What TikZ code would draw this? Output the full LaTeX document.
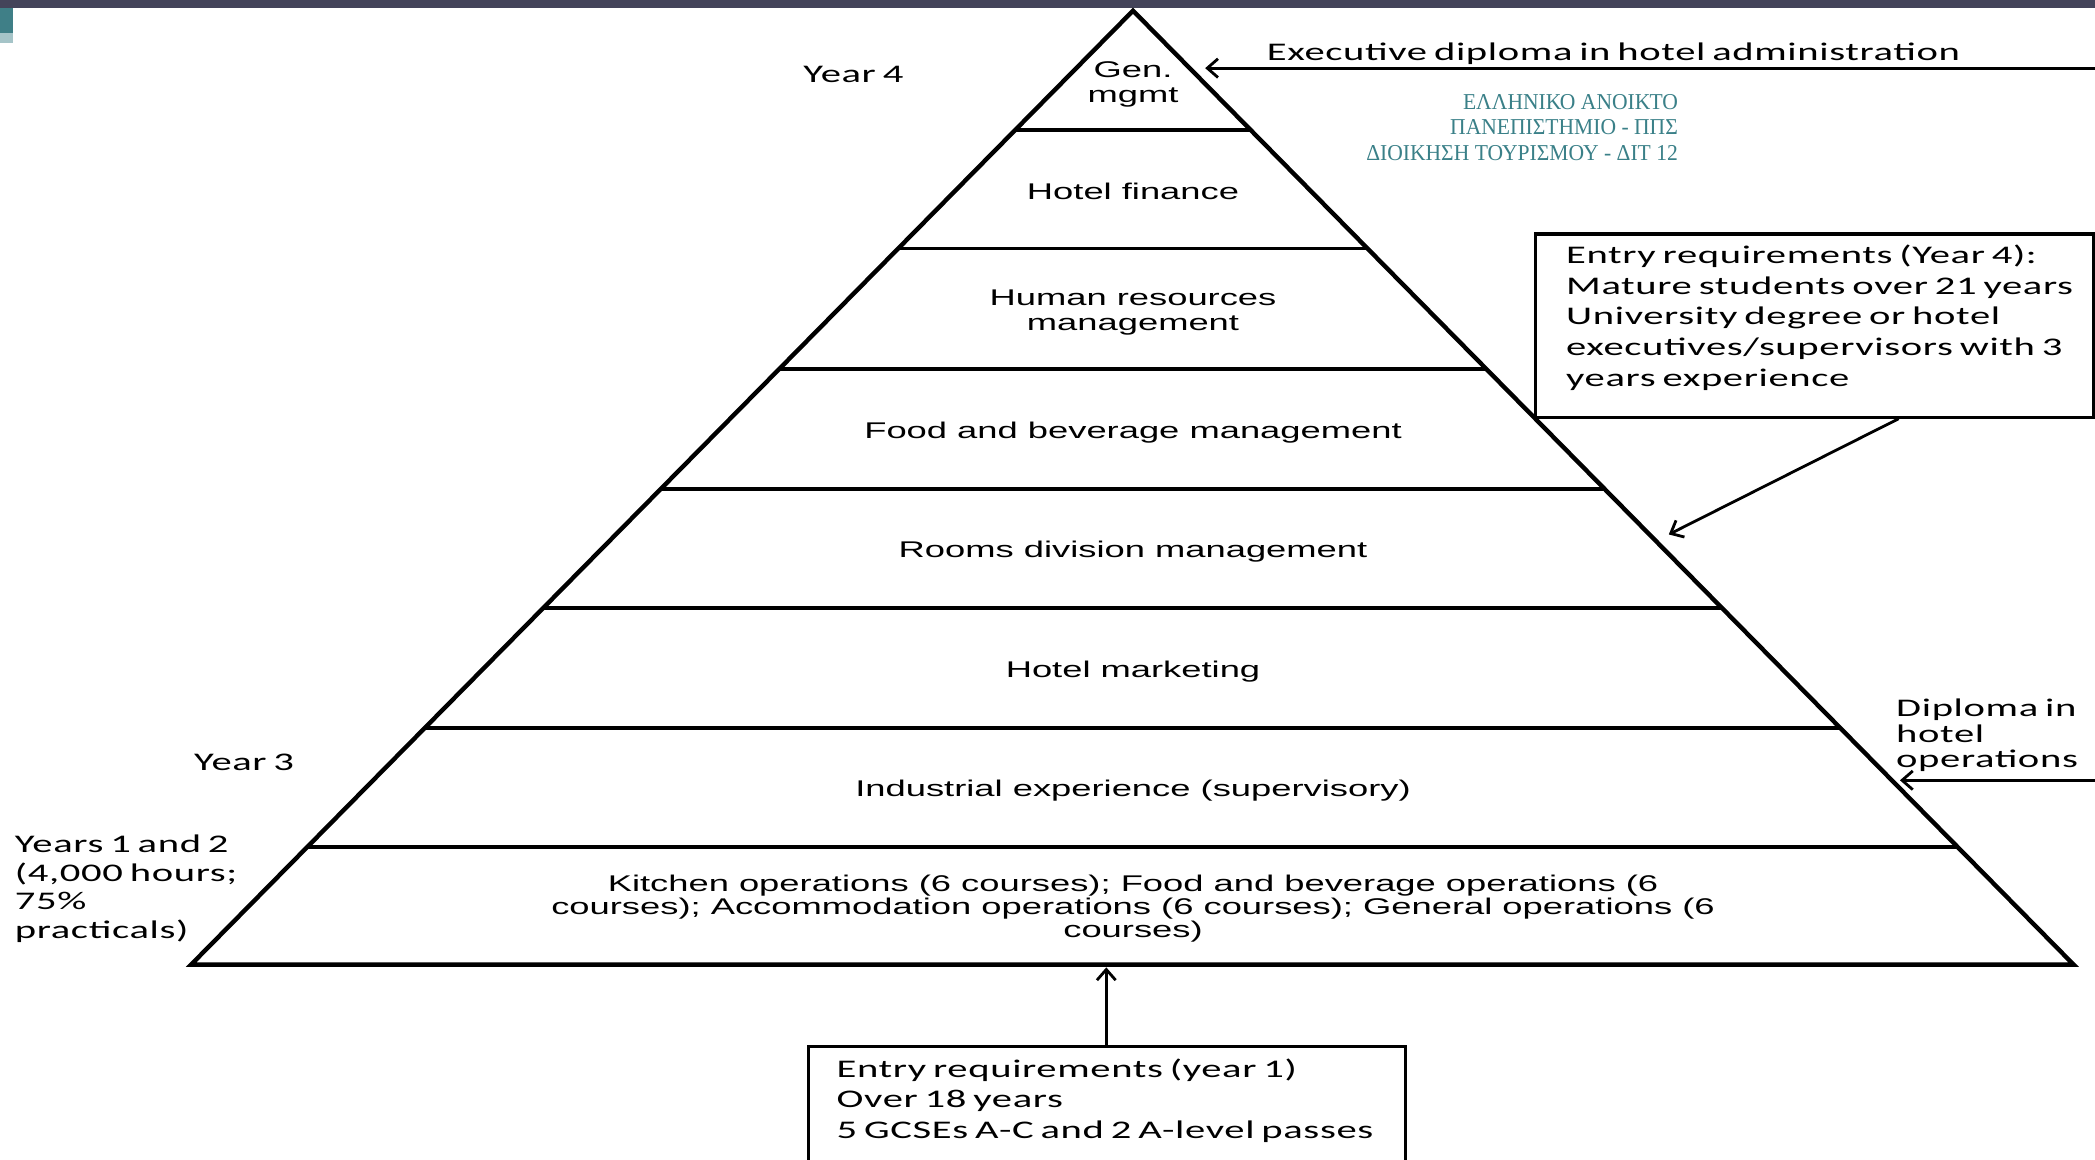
\documentclass[tikz,border=0pt]{standalone}
\usepackage{fontspec}
\setmainfont{Liberation Sans}
\newfontfamily\arialw[FakeStretch=1.6]{Liberation Sans}
\newfontfamily\calw[FakeStretch=1.6,LetterSpace=2.5,WordSpace=0.7]{Carlito}
\newfontfamily\grk[FakeStretch=0.95]{Liberation Serif}
\usetikzlibrary{arrows.meta,calc}
\definecolor{topbar}{HTML}{44445A}
\definecolor{tealA}{HTML}{3F7F87}
\definecolor{tealB}{HTML}{A5C4C8}
\definecolor{grktxt}{HTML}{3A8088}
\begin{document}
\begin{tikzpicture}[x=1pt,y=-1pt,
  pyr/.style={line width=3.3pt, line join=miter},
  tier/.style={line width=2.9pt},
  arr/.style={line width=2.1pt, -{Straight Barb[length=8pt,width=14pt,line width=2.1pt]}},
  ptext/.style={font=\arialw\fontsize{17}{19}\selectfont, align=center, inner sep=0pt},
  ktext/.style={font=\arialw\fontsize{17}{17.5}\selectfont, align=center, inner sep=0pt},
  ctext/.style={font=\calw\fontsize{19}{23}\selectfont, align=left, inner sep=0pt},
  gtext/.style={font=\grk\fontsize{17}{19}\selectfont, text=grktxt, inner sep=0pt},
  boxed/.style={draw, line width=2.4pt, inner sep=0pt}
]
\useasboundingbox (0,0) rectangle (1568,868);
\fill[white] (0,0) rectangle (1568,868);
\fill[topbar] (0,0) rectangle (1568,6);
\fill[tealA] (0,6) rectangle (10,25);
\fill[tealB] (0,25) rectangle (10,32);

% pyramid
\coordinate (apex) at (848,8);
\coordinate (bl) at (143,722);
\coordinate (br) at (1552,722);
\foreach \yy in {97,186,276,366,455,545,634}{
  \draw[tier] ($(apex)!{(\yy-8)/714}!(bl)$) -- ($(apex)!{(\yy-8)/714}!(br)$);
}
\draw[pyr] (bl) -- (apex) -- (br) -- cycle;

% tier texts
\node[ptext] (gen) at (848,63) {Gen.\\mgmt};
\node[ptext, anchor=base] (fin) at (848,149) {Hotel finance};
\node[ptext] (hrm) at (848,234) {Human resources\\management};
\node[ptext, anchor=base] (fbm) at (848,328) {Food and beverage management};
\node[ptext, anchor=base] (rdm) at (848,417) {Rooms division management};
\node[ptext, anchor=base] (mkt) at (848,507) {Hotel marketing};
\node[ptext, anchor=base] (ind) at (848,596) {Industrial experience (supervisory)};
\node[ktext] (kit) at (848,680) {Kitchen operations (6 courses); Food and beverage operations (6\\courses); Accommodation operations (6 courses); General operations (6\\courses)};

% side labels
\node[ctext, anchor=base west] (y4) at (601,62) {Year 4};
\node[ctext, anchor=base west] (y3) at (145,577) {Year 3};
\node[ctext, anchor=north west, font=\calw\fontsize{19}{21.3}\selectfont] (y12) at (11,625) {Years 1 and 2\\(4,000 hours;\\75\%\\practicals)};
\node[ctext, anchor=north west, font=\calw\fontsize{19}{19}\selectfont] (dip) at (1419,523) {Diploma in\\hotel\\operations};
\node[ctext, anchor=base west] (exec) at (948,45) {Executive diploma in hotel administration};

% greek watermark text
\node[gtext, anchor=base east] (g1) at (1256,82) {ΕΛΛΗΝΙΚΟ ΑΝΟΙΚΤΟ};
\node[gtext, anchor=base east] (g2) at (1256,101) {ΠΑΝΕΠΙΣΤΗΜΙΟ - ΠΠΣ};
\node[gtext, anchor=base east] (g3) at (1256,120) {ΔΙΟΙΚΗΣΗ ΤΟΥΡΙΣΜΟΥ - ΔΙΤ 12};

% boxes
\node[boxed, anchor=north west, minimum width=418pt, minimum height=137pt] (ybox) at (1148,174) {};
\node[ctext, anchor=north west] (ytext) at (1172,183) {Entry requirements (Year 4):\\Mature students over 21 years\\University degree or hotel\\executives/supervisors with 3\\years experience};
\node[boxed, anchor=north west, minimum width=447pt, minimum height=120pt] (bbox) at (604,782) {};
\node[ctext, anchor=north west] (btext) at (626,792) {Entry requirements (year 1)\\Over 18 years\\5 GCSEs A-C and 2 A-level passes};

% connectors
\coordinate (execStart) at (1568,51);
\coordinate (execEnd) at (902,51);
\draw[arr] (execStart) -- (execEnd);
\coordinate (dipStart) at (1568,584);
\coordinate (dipEnd) at (1422,584);
\draw[arr] (dipStart) -- (dipEnd);
\coordinate (yEnd) at (1249,400);
\draw[arr] (ybox.south -| 1421,0) -- (yEnd);
\coordinate (bEnd) at (828,724);
\draw[arr] (bbox.north -| bEnd) -- (bEnd);
\end{tikzpicture}
\end{document}
